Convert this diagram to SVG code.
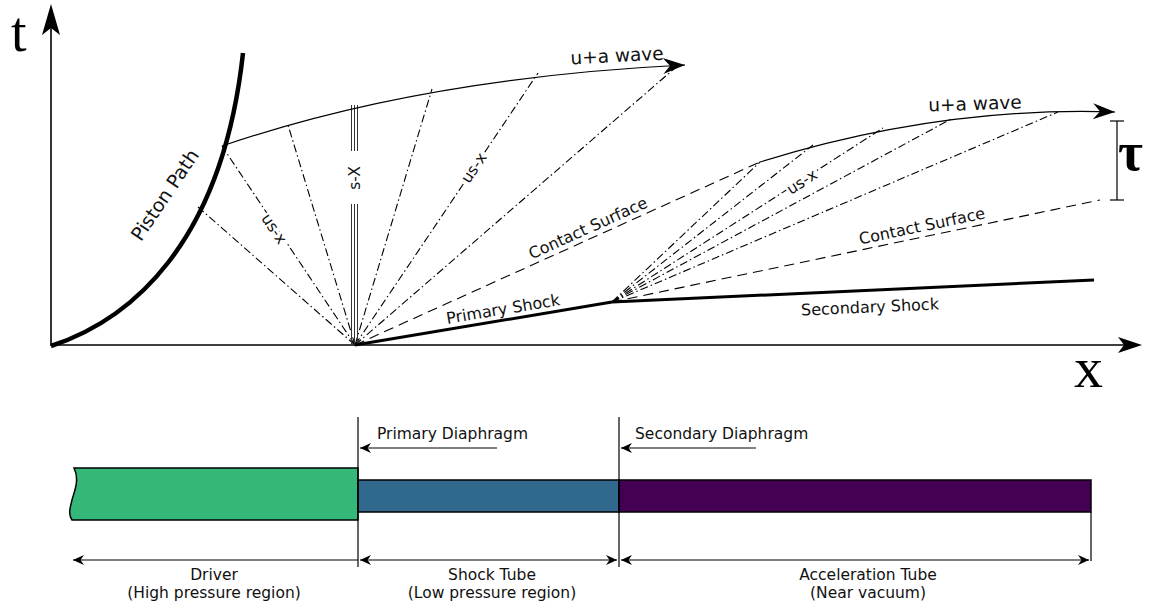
<svg xmlns="http://www.w3.org/2000/svg" width="1156" height="608" viewBox="0 0 1156 608">
<style>
.thin{fill:none;stroke:#000;stroke-width:1.2}
.axis{fill:none;stroke:#000;stroke-width:1.6}
.dd{fill:none;stroke:#000;stroke-width:1.1;stroke-dasharray:8 3 1.5 3}
.da{fill:none;stroke:#000;stroke-width:1.1;stroke-dasharray:10 6}
.thick{fill:none;stroke:#000;stroke-width:3}
.triple{fill:none;stroke:#333;stroke-width:1}
.lbl{font-family:"DejaVu Sans",sans-serif;fill:#111}
.halo{stroke:#fff;stroke-width:5;paint-order:stroke;stroke-linejoin:round}
.serif{font-family:"Liberation Serif",serif;fill:#000}
.tube{stroke:#000;stroke-width:1.5}
</style>
<defs>
<marker id="big" markerUnits="userSpaceOnUse" markerWidth="30" markerHeight="20" viewBox="-24 -10 26 20" refX="0" refY="0" orient="auto">
<path d="M0,0 L-22,-8 L-15,0 L-22,8 Z" fill="#000"/>
</marker>
<marker id="sm" markerUnits="userSpaceOnUse" markerWidth="14" markerHeight="12" viewBox="-12 -6 14 12" refX="0" refY="0" orient="auto-start-reverse">
<path d="M0,0 L-11,-5 L-7.5,0 L-11,5 Z" fill="#000"/>
</marker>
</defs>

<g id="axes">
<line class="axis" x1="51" y1="346" x2="51" y2="12"/>
<polygon points="51,4 60,35 51,28 42,35" fill="#000"/>
<line class="axis" x1="51" y1="345" x2="1134" y2="345"/>
<polygon points="1142,345 1118,337 1124,345 1118,353" fill="#000"/>
<text class="serif" x="11" y="51" font-size="56">t</text>
<text class="serif" x="1074" y="387" font-size="58">x</text>
</g>

<g id="piston">
<path d="M51,346 C130,320 222,245 243,53" fill="none" stroke="#000" stroke-width="4.5"/>
<text class="lbl" font-size="19" text-anchor="middle" transform="translate(165,195) rotate(-56)" y="6.5">Piston Path</text>
</g>

<g id="connectors">
<line class="dd" x1="355" y1="345" x2="198" y2="207"/>
<line class="dd" x1="355" y1="345" x2="222" y2="146"/>
<line class="dd" x1="355" y1="345" x2="288" y2="125"/>
<line class="dd" x1="355" y1="345" x2="432" y2="89"/>
<line class="dd" x1="355" y1="345" x2="538" y2="73"/>
<line class="dd" x1="355" y1="345" x2="675" y2="68"/>
<line class="triple" x1="351.5" y1="345" x2="351.5" y2="105"/>
<line class="triple" x1="354.5" y1="345" x2="354.5" y2="105"/>
<line class="triple" x1="357.5" y1="345" x2="357.5" y2="105"/>
<rect x="347" y="151" width="15" height="53" fill="#fff"/>
<line class="da" x1="355" y1="345" x2="760" y2="162"/>
<line class="thick" x1="355" y1="345" x2="612" y2="302"/>
<path class="thin" d="M222,146 Q420,78 685,65" marker-end="url(#big)"/>
<line class="dd" x1="612" y1="302" x2="760" y2="162"/>
<line class="dd" x1="612" y1="302" x2="813" y2="145"/>
<line class="dd" x1="612" y1="302" x2="883" y2="128"/>
<line class="dd" x1="612" y1="302" x2="953" y2="118"/>
<line class="dd" x1="612" y1="302" x2="1058" y2="112"/>
<line class="da" x1="612" y1="302" x2="1100" y2="200"/>
<line class="thick" x1="612" y1="302" x2="1094" y2="280"/>
<path class="thin" d="M760,162 Q940,106 1115,112" marker-end="url(#big)"/>
</g>

<g id="labels">
<text class="lbl halo" font-size="15.5" text-anchor="middle" transform="translate(274,229) rotate(56)" y="5">us-x</text>
<text class="lbl" font-size="15.5" text-anchor="middle" transform="translate(355,178) rotate(-90)" y="5">s-X</text>
<text class="lbl halo" font-size="15.5" text-anchor="middle" transform="translate(474,168) rotate(-56)" y="5">us-x</text>
<text class="lbl halo" font-size="15.5" text-anchor="middle" transform="translate(802,182) rotate(-32.7)" y="5">us-x</text>
<text class="lbl" font-size="16" text-anchor="middle" transform="translate(588,228) rotate(-24.3)" y="5.5">Contact Surface</text>
<text class="lbl" font-size="16" text-anchor="middle" transform="translate(922,226) rotate(-11.8)" y="5.5">Contact Surface</text>
<text class="lbl" font-size="16" text-anchor="middle" transform="translate(503,309) rotate(-9.5)" y="5.5">Primary Shock</text>
<text class="lbl" font-size="16" text-anchor="middle" transform="translate(870,307) rotate(-2.6)" y="5.5">Secondary Shock</text>
<text class="lbl" font-size="18.5" text-anchor="middle" transform="translate(617,56) rotate(-3)" y="6">u+a wave</text>
<text class="lbl" font-size="18.5" text-anchor="middle" transform="translate(975,104) rotate(-2)" y="6">u+a wave</text>
</g>

<g id="tau">
<line class="thin" x1="1117" y1="121" x2="1117" y2="200"/>
<line class="thin" x1="1110" y1="121" x2="1124" y2="121"/>
<line class="thin" x1="1110" y1="200" x2="1124" y2="200"/>
<text class="serif" x="1118" y="170" font-size="54" font-weight="bold">τ</text>
</g>

<g id="driver">
<path class="tube" d="M74,468 L358,468 L358,520 L72,520 C68,514 70,508 72,500 C74,492 80,480 74,468 Z" fill="#35b779"/>
</g>
<g id="shocktube">
<rect class="tube" x="358" y="480" width="261" height="32" fill="#31688e"/>
</g>
<g id="acceltube">
<rect class="tube" x="619" y="480" width="472" height="32" fill="#440154"/>
</g>

<g id="diaphragms">
<line class="thin" x1="358" y1="417" x2="358" y2="567"/>
<line class="thin" x1="619" y1="417" x2="619" y2="567"/>
<line class="thin" x1="1091" y1="512" x2="1091" y2="561"/>
<line class="thin" x1="497" y1="448" x2="360" y2="448" marker-end="url(#sm)"/>
<line class="thin" x1="756" y1="448" x2="621" y2="448" marker-end="url(#sm)"/>
<text class="lbl" font-size="15.5" x="377" y="439">Primary Diaphragm</text>
<text class="lbl" font-size="15.5" x="635" y="439">Secondary Diaphragm</text>
</g>

<g id="dimensions">
<line class="thin" x1="358" y1="560" x2="73" y2="560" marker-end="url(#sm)"/>
<line class="thin" x1="360" y1="560" x2="617" y2="560" marker-start="url(#sm)" marker-end="url(#sm)"/>
<line class="thin" x1="621" y1="560" x2="1089" y2="560" marker-start="url(#sm)" marker-end="url(#sm)"/>
<text class="lbl" font-size="15.5" text-anchor="middle" x="214" y="580">Driver</text>
<text class="lbl" font-size="15.5" text-anchor="middle" x="214" y="598">(High pressure region)</text>
<text class="lbl" font-size="15.5" text-anchor="middle" x="492" y="580">Shock Tube</text>
<text class="lbl" font-size="15.5" text-anchor="middle" x="492" y="598">(Low pressure region)</text>
<text class="lbl" font-size="15.5" text-anchor="middle" x="868" y="580">Acceleration Tube</text>
<text class="lbl" font-size="15.5" text-anchor="middle" x="868" y="598">(Near vacuum)</text>
</g>
</svg>
